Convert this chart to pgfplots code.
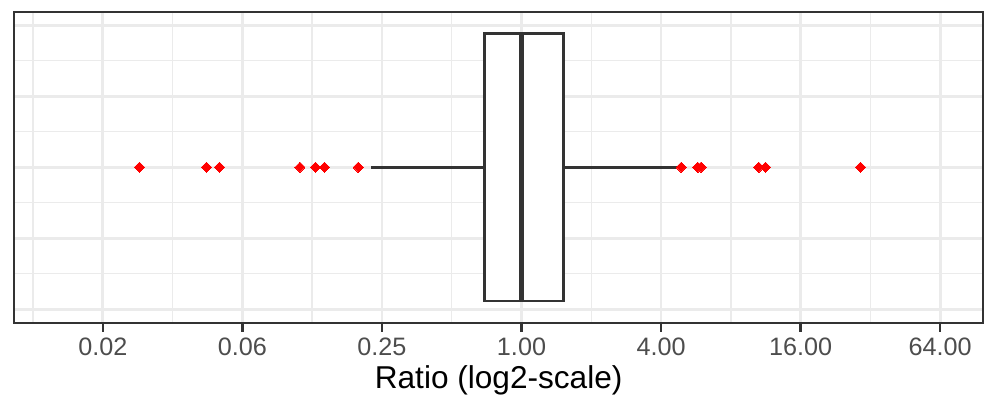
\documentclass[border=0pt]{standalone}
\usepackage{fontspec}
\setmainfont{Liberation Sans}
\usepackage{pgfplots}
\pgfplotsset{compat=1.18}
\usepgfplotslibrary{statistics}
\definecolor{grey20}{HTML}{333333}
\definecolor{grey30}{HTML}{4D4D4D}
\definecolor{grey92}{HTML}{EBEBEB}
\begin{document}
\begin{tikzpicture}
\begin{axis}[name=ax, scale only axis, width=484.65pt, height=155.5pt,
  xmin=-7.273, xmax=6.618, ymin=-2.19, ymax=2.19, clip=false,
  xtick={-6,-4,-2,0,2,4,6},
  xticklabels={0.02,0.06,0.25,1.00,4.00,16.00,64.00},
  minor xtick={-7,-5,-3,-1,1,3,5},
  ytick={-2,-1,0,1,2}, minor ytick={-1.5,-0.5,0.5,1.5}, yticklabels={},
  xmajorgrids, xminorgrids, ymajorgrids, yminorgrids,
  major grid style={grey92, line width=1.35pt},
  minor grid style={grey92, line width=0.7pt},
  axis line style={grey20, line width=0.85pt},
  xtick pos=left, ytick pos=left,
  tick align=inside,
  major tick length=0pt, minor tick length=0pt,
  y tick style={draw=none},
  tick label style={font=\fontsize{12.6}{15}\selectfont, text=grey30},
  xticklabel shift=4pt,
  xlabel={Ratio (log2-scale)},
  xlabel style={font=\fontsize{15.8}{18}\selectfont, text=black, yshift=2pt},
  tickmark/.style={grey20, line width=1.15pt, forget plot},
]
% values in log2(ratio) units
\addplot[draw=grey20, fill=white, line width=1.4pt,
  boxplot prepared={lower whisker=-2.153, lower quartile=-0.526, median=0,
    upper quartile=0.606, upper whisker=2.235, draw position=0, box extend=3.77,
    every box/.style={line width=1.4pt, draw=grey20, fill=white},
    every median/.style={line width=2.6pt, draw=grey20}},
  boxplot/draw/lower whisker/.code={\draw[line width=1.4pt, grey20] (boxplot cs:\pgfplotsboxplotvalue{lower whisker}) -- (boxplot cs:\pgfplotsboxplotvalue{lower quartile});},
  boxplot/draw/upper whisker/.code={\draw[line width=1.4pt, grey20] (boxplot cs:\pgfplotsboxplotvalue{upper quartile}) -- (boxplot cs:\pgfplotsboxplotvalue{upper whisker});},
] coordinates {};
\addplot[only marks, mark=square*, mark size=1.8pt, color=red,
  mark options={rotate=45, draw=red, fill=red, line width=0pt}]
  coordinates {(-5.473,0) (-4.513,0) (-4.327,0) (-3.176,0) (-2.951,0) (-2.822,0) (-2.340,0)
  (2.288,0) (2.526,0) (2.574,0) (3.400,0) (3.496,0) (4.857,0)};
% x-axis tick marks below the panel
\addplot[tickmark] coordinates {(-6,-2.19) (-6,-2.317)};
\addplot[tickmark] coordinates {(-4,-2.19) (-4,-2.317)};
\addplot[tickmark] coordinates {(-2,-2.19) (-2,-2.317)};
\addplot[tickmark] coordinates {(0,-2.19) (0,-2.317)};
\addplot[tickmark] coordinates {(2,-2.19) (2,-2.317)};
\addplot[tickmark] coordinates {(4,-2.19) (4,-2.317)};
\addplot[tickmark] coordinates {(6,-2.19) (6,-2.317)};
\end{axis}
\pgfresetboundingbox
\path[use as bounding box] ([xshift=-7pt,yshift=-38.15pt]ax.south west) rectangle ([xshift=0.35pt,yshift=5.85pt]ax.north east);
\end{tikzpicture}
\end{document}
